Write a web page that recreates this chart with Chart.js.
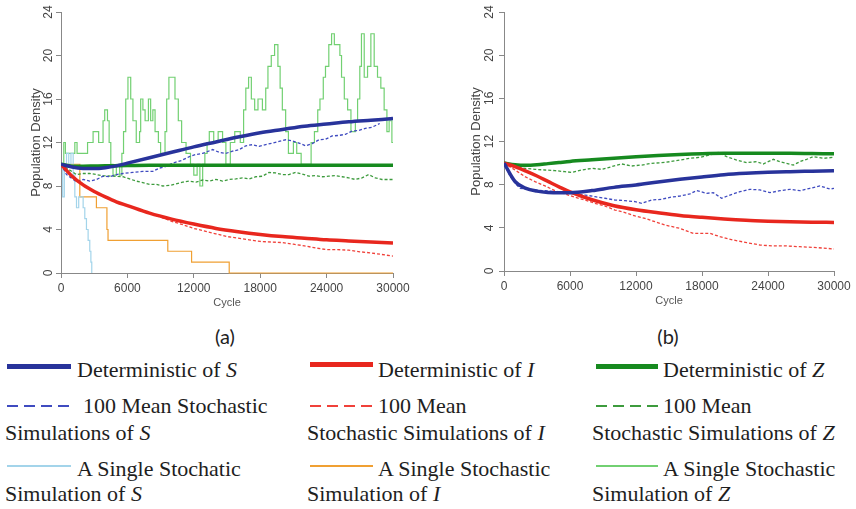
<!DOCTYPE html>
<html>
<head>
<meta charset="utf-8">
<script src="https://cdn.jsdelivr.net/npm/chart.js@4.4.1/dist/chart.umd.min.js"></script>
<style>
  body { margin: 0; width: 856px; height: 509px; background: #fff; position: relative; overflow: hidden; }
  #boxA { position: absolute; left: 0; top: 0; width: 430px; height: 312px; }
  #boxB { position: absolute; left: 430px; top: 0; width: 426px; height: 312px; }
  .tag { position: absolute; top: 324px; width: 60px; text-align: center; font: 20px Lato, "Open Sans", sans-serif; line-height: 24px; color: #222; }
  .key { position: absolute; height: 2px; }
  .txt { position: absolute; font: 22px "Liberation Serif", "Times New Roman", serif; line-height: 24px; color: #1e1e1e; white-space: nowrap; }
</style>
</head>
<body>
<div id="boxA"><canvas id="chartA"></canvas></div>
<div id="boxB"><canvas id="chartB"></canvas></div>
<div class="tag" style="left:195px">(a)</div>
<div class="tag" style="left:638px">(b)</div>

<!-- legend, column 1 -->
<div class="key" style="left:7px;top:364px;width:64px;height:5px;background:#28339b"></div>
<div class="txt" style="left:77px;top:358px">Deterministic of <i>S</i></div>
<div class="key" style="left:7px;top:405px;width:64px;background:repeating-linear-gradient(90deg,#3f4bc0 0 11px,transparent 11px 17px)"></div>
<div class="txt" style="left:83px;top:394px">100 Mean Stochastic</div>
<div class="txt" style="left:5px;top:421px">Simulations of <i>S</i></div>
<div class="key" style="left:7px;top:465px;width:64px;background:#a3d4ea"></div>
<div class="txt" style="left:77px;top:457px">A Single Stochatic</div>
<div class="txt" style="left:5px;top:482px">Simulation of <i>S</i></div>

<!-- legend, column 2 -->
<div class="key" style="left:310px;top:362px;width:63px;height:5px;background:#e8271e"></div>
<div class="txt" style="left:378px;top:358px">Deterministic of <i>I</i></div>
<div class="key" style="left:310px;top:405px;width:63px;background:repeating-linear-gradient(90deg,#f0413a 0 11px,transparent 11px 17px)"></div>
<div class="txt" style="left:378px;top:394px">100 Mean</div>
<div class="txt" style="left:307px;top:421px">Stochastic Simulations of <i>I</i></div>
<div class="key" style="left:310px;top:465px;width:63px;background:#f0a033"></div>
<div class="txt" style="left:378px;top:457px">A Single Stochastic</div>
<div class="txt" style="left:307px;top:482px">Simulation of <i>I</i></div>

<!-- legend, column 3 -->
<div class="key" style="left:596px;top:364px;width:62px;height:5px;background:#168a1f"></div>
<div class="txt" style="left:663px;top:358px">Deterministic of <i>Z</i></div>
<div class="key" style="left:596px;top:405px;width:62px;background:repeating-linear-gradient(90deg,#3d9b3d 0 11px,transparent 11px 17px)"></div>
<div class="txt" style="left:663px;top:394px">100 Mean</div>
<div class="txt" style="left:592px;top:421px">Stochastic Simulations of <i>Z</i></div>
<div class="key" style="left:596px;top:465px;width:62px;background:#72d072"></div>
<div class="txt" style="left:663px;top:457px">A Single Stochastic</div>
<div class="txt" style="left:592px;top:482px">Simulation of <i>Z</i></div>

<script>
// axes
const xTicks = [0, 6000, 12000, 18000, 24000, 30000];
const yTicks = [0, 4, 8, 12, 16, 20, 24];

// deterministic curves share the same cycles
const detCycles = [0, 1000, 2000, 3000, 4000, 5000, 6000, 8000, 10000, 12000, 14000, 16000, 18000, 20000, 22000, 24000, 26000, 28000, 30000];

// panel (a)
const aDetS = [10, 9.75, 9.62, 9.6, 9.68, 9.85, 10.1, 10.6, 11.1, 11.6, 12.05, 12.5, 12.9, 13.2, 13.5, 13.7, 13.9, 14.05, 14.2];
const aDetI = [10, 8.9, 8.1, 7.5, 7.0, 6.55, 6.2, 5.5, 4.95, 4.5, 4.1, 3.8, 3.55, 3.35, 3.2, 3.05, 2.95, 2.85, 2.75];
const aDetZ = [10, 9.82, 9.82, 9.84, 9.86, 9.87, 9.88, 9.9, 9.9, 9.9, 9.9, 9.9, 9.9, 9.9, 9.9, 9.9, 9.9, 9.9, 9.9];

const aMeanS = [[0,10],[500,9.05],[960,8.7],[1400,8.4],[2000,8.6],[2600,8.45],[3200,8.6],[3800,8.9],[4400,8.85],[5000,9.05],[5600,9.15],[6500,9.25],[7400,9.35],[8300,9.35],[8900,9.65],[9500,9.8],[10100,10.1],[10900,10.35],[11600,10.7],[12200,10.9],[12800,11.0],[13700,11.35],[14300,11.1],[14900,11.0],[15500,11.2],[16100,11.35],[16700,11.7],[17300,11.8],[17900,11.65],[18500,11.8],[19100,11.95],[19700,12.1],[20300,12.25],[20900,12.15],[21500,11.95],[22100,11.7],[22700,11.9],[23300,12.25],[23900,12.3],[24500,12.6],[25100,12.65],[25700,12.75],[26300,13.05],[26900,13.1],[27500,13.3],[28100,13.4],[28800,13.75]];
const aMeanI = [[0,10],[1000,8.9],[2000,8.1],[3000,7.5],[4000,7.0],[5000,6.55],[6000,6.2],[8000,5.5],[9000,5.15],[10000,4.75],[11000,4.45],[12000,4.1],[13000,3.85],[14000,3.6],[15000,3.35],[16000,3.2],[17000,3.05],[18000,2.9],[19000,2.85],[20000,2.8],[21000,2.65],[22000,2.5],[23000,2.3],[24000,2.15],[25000,2.15],[26000,2.1],[27000,1.95],[28000,1.85],[29000,1.7],[30000,1.55]];
const aMeanZ = [[0,10],[500,9.65],[960,9.35],[1400,9.05],[2000,9.15],[2600,9.15],[3200,9.05],[3800,8.95],[4700,8.9],[5600,8.85],[6200,8.65],[6800,8.45],[7400,8.3],[8000,8.15],[8600,8.15],[9200,8.0],[9800,8.05],[10400,8.2],[11000,8.35],[11600,8.45],[12200,8.35],[12800,8.55],[13400,8.45],[14000,8.6],[14600,8.45],[15200,8.6],[15800,8.65],[16400,8.75],[17000,8.65],[17600,8.85],[18200,8.9],[18800,9.25],[19400,9.2],[20000,9.05],[20600,9.05],[21200,9.25],[21800,9.1],[22400,8.9],[23000,8.95],[23600,8.85],[24200,8.9],[24800,8.95],[25400,8.85],[26000,8.75],[26600,8.6],[27200,8.75],[27800,9.05],[28400,8.75],[29000,8.6],[30000,8.6]];

// single runs: [cycle where the count changes, new count]
const aOneS = [[0,10],[150,7],[300,10],[500,11],[700,10],[900,11],[1100,9],[1250,7],[1400,6],[1600,7],[2000,6],[2150,5],[2300,4],[2450,3],[2600,2],[2700,1],[2780,0]];
const aOneI = [[0,10],[1700,7],[3200,6],[4150,4],[4250,3],[9650,2],[11800,1],[15200,0],[30000,0]];
const aOneZ = [[0,10],[250,12],[400,11],[1250,12],[1450,11],[2400,12],[2900,13],[3400,12],[3800,14],[3950,15],[4200,14],[4350,12],[4500,10],[4700,9],[5000,10],[5300,9],[5500,11],[5650,13],[5850,16],[6050,18],[6300,16],[6500,14],[6800,12],[7100,13],[7200,16],[7400,15],[7600,14],[7900,16],[8100,14],[8300,15],[8500,13],[8800,12],[9000,11],[9400,13],[9550,16],[9750,18],[10300,16],[10600,14],[10900,12],[11300,11],[11700,10],[12000,9],[12300,10],[12550,8],[12800,10],[13000,11],[13200,12],[13400,13],[13800,12],[14200,13],[14600,12],[14900,10],[15300,12],[15700,13],[16200,12],[16500,15],[16700,17],[16950,18],[17200,16],[17500,15],[17800,16],[18200,15],[18500,17],[18700,19],[19000,20],[19300,21],[19600,19],[19800,17],[20000,15],[20300,13],[20550,11],[21000,12],[21300,11],[21700,10],[22600,12],[22900,13],[23200,15],[23400,16],[23700,18],[23900,19],[24200,21],[24450,22],[24700,21],[25200,20],[25350,18],[25600,16],[25900,15],[26200,13],[26600,14],[26800,16],[27000,19],[27150,22],[27400,18],[27700,19],[28000,22],[28300,19],[28600,18],[28900,17],[29200,15],[29450,13],[29650,14],[29900,12],[30000,12]];

// panel (b)
const bDetS = [10, 8.3, 7.65, 7.4, 7.28, 7.24, 7.25, 7.45, 7.75, 7.97, 8.25, 8.5, 8.72, 8.92, 9.05, 9.14, 9.2, 9.25, 9.3];
const bDetI = [10, 9.67, 9.25, 8.8, 8.3, 7.8, 7.33, 6.6, 6.05, 5.68, 5.4, 5.15, 4.97, 4.82, 4.7, 4.62, 4.56, 4.52, 4.5];
const bDetZ = [10, 9.85, 9.8, 9.85, 9.95, 10.05, 10.15, 10.3, 10.45, 10.58, 10.7, 10.8, 10.87, 10.9, 10.9, 10.9, 10.9, 10.88, 10.86];

const bMeanS = [[0,10],[500,8.9],[1000,8.13],[1460,7.66],[1910,7.6],[2820,7.51],[3730,7.44],[4640,7.35],[5550,7.26],[6460,7.14],[7360,7.04],[8270,6.89],[9180,6.74],[10090,6.58],[11000,6.52],[11910,6.43],[12520,6.27],[13420,6.58],[14330,6.64],[15090,6.83],[16000,6.95],[16900,7.14],[17510,7.45],[18420,7.2],[19020,7.26],[19780,6.74],[20540,7.04],[21450,7.35],[22360,7.57],[23270,7.51],[24180,7.26],[25090,7.44],[25990,7.57],[26900,7.44],[27810,7.66],[28720,7.88],[29630,7.6],[30000,7.65]];
const bMeanI = [[0,10],[1000,9.36],[1910,8.74],[2820,8.28],[3730,7.88],[4640,7.44],[5550,7.14],[6460,6.83],[7360,6.58],[8270,6.27],[9180,6.02],[10090,5.65],[11000,5.41],[11910,5.1],[12820,4.88],[13720,4.57],[14630,4.26],[15550,4.05],[16000,3.95],[17210,3.49],[18720,3.49],[19630,3.18],[20840,2.87],[22060,2.63],[23270,2.41],[24480,2.32],[25690,2.32],[26900,2.25],[28120,2.19],[29330,2.1],[30000,2.04]];
const bMeanZ = [[0,10],[1000,9.67],[1910,9.51],[2820,9.42],[3730,9.36],[4640,9.3],[5550,9.2],[6150,9.14],[7060,9.36],[7970,9.51],[8880,9.42],[9790,9.67],[10700,9.92],[11610,9.73],[12520,9.82],[13420,9.98],[14330,10.04],[15090,10.13],[16000,10.28],[16900,10.44],[17810,10.53],[18720,10.75],[19470,10.99],[20240,10.6],[21150,10.28],[22060,10.04],[22970,10.13],[23570,9.92],[24480,10.35],[25090,10.13],[25690,9.98],[26300,9.82],[26900,10.13],[27510,10.35],[28120,10.6],[29030,10.44],[29940,10.53]];

const colors = {
    detS: '#28339b', detI: '#e8271e', detZ: '#168a1f',
    meanS: '#3f4bc0', meanI: '#f0413a', meanZ: '#3d9b3d',
    oneS: '#a3d4ea', oneI: '#f0a033', oneZ: '#72d072'
};

const pairs = (xs, ys) => xs.map((x, i) => [x, ys[i]]);

const det = (ys, color) => ({
    data: pairs(detCycles, ys), borderColor: color, borderWidth: 3.5,
    cubicInterpolationMode: 'monotone', pointRadius: 0
});
const mean = (data, color) => ({
    data, borderColor: color, borderWidth: 1.3, borderDash: [3, 2], pointRadius: 0
});
const single = (data, color) => ({
    data, borderColor: color, borderWidth: 1.2, stepped: true, pointRadius: 0, clip: false
});

// y tick labels are drawn turned on their side, like the original plot
const sideTicks = {
    id: 'sideTicks',
    afterDraw(chart, args, opts) {
        const y = chart.scales.y, ctx = chart.ctx;
        ctx.save();
        ctx.font = '12px "Liberation Sans", Arial, sans-serif';
        ctx.fillStyle = '#444';
        ctx.textAlign = 'center';
        ctx.textBaseline = 'middle';
        yTicks.forEach(v => {
            ctx.save();
            ctx.translate(opts.x, y.getPixelForValue(v));
            ctx.rotate(-Math.PI / 2);
            ctx.fillText(String(v), 0, 0);
            ctx.restore();
        });
        ctx.restore();
    }
};

const drawPanel = (id, datasets, box) => {
    new Chart(document.getElementById(id), {
        type: 'line',
        data: {datasets},
        plugins: [sideTicks],
        options: {
            responsive: true,
            maintainAspectRatio: false,
            animation: false,
            layout: {padding: {left: 0, top: 12, right: box.right, bottom: box.bottom}},
            plugins: {
                legend: {display: false},
                tooltip: {enabled: false},
                sideTicks: {x: box.tickX}
            },
            scales: {
                x: {
                    type: 'linear', min: 0, max: 30000,
                    afterBuildTicks: s => { s.ticks = xTicks.map(v => ({value: v})); },
                    afterFit: s => { s.height = 37; },
                    grid: {drawOnChartArea: false, tickLength: 5, color: '#888'},
                    border: {color: '#888'},
                    ticks: {padding: 3, color: '#444', callback: v => String(v),
                        font: {family: '"Liberation Sans", Arial, sans-serif', size: 12}},
                    title: {display: true, text: 'Cycle', color: '#555', padding: 0,
                        font: {family: '"Liberation Sans", Arial, sans-serif', size: 11}}
                },
                y: {
                    min: 0, max: 24,
                    afterBuildTicks: s => { s.ticks = yTicks.map(v => ({value: v})); },
                    afterFit: s => { s.width = box.left; },
                    grid: {drawOnChartArea: false, tickLength: 5, color: '#888'},
                    border: {color: '#888'},
                    ticks: {display: false},
                    title: {display: true, text: 'Population Density', color: '#444', padding: {top: box.titlePad},
                        font: {family: '"Liberation Sans", Arial, sans-serif', size: 13}}
                }
            }
        }
    });
};

drawPanel('chartA', [
    det(aDetS, colors.detS), det(aDetI, colors.detI), det(aDetZ, colors.detZ),
    mean(aMeanS, colors.meanS), mean(aMeanI, colors.meanI), mean(aMeanZ, colors.meanZ),
    single(aOneS, colors.oneS), single(aOneI, colors.oneI), single(aOneZ, colors.oneZ)
], {left: 61, right: 37, bottom: 2, tickX: 49, titlePad: 29});

drawPanel('chartB', [
    det(bDetS, colors.detS), det(bDetI, colors.detI), det(bDetZ, colors.detZ),
    mean(bMeanS, colors.meanS), mean(bMeanI, colors.meanI), mean(bMeanZ, colors.meanZ)
], {left: 74, right: 22, bottom: 4, tickX: 60, titlePad: 39});
</script>
</body>
</html>
